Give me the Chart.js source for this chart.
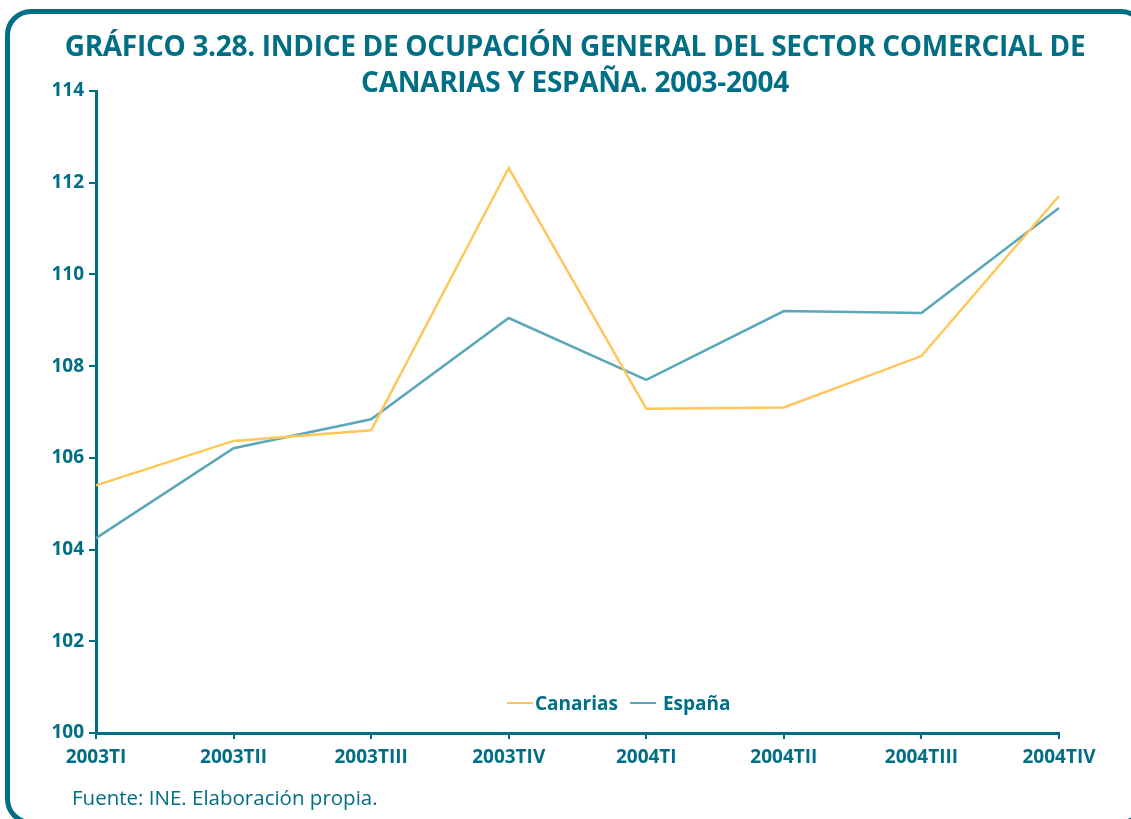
<!DOCTYPE html>
<html lang="es">
<head>
    <meta charset="UTF-8">
    <title>Gráfico 3.28</title>
    <script src="https://cdn.jsdelivr.net/npm/chart.js@4.4.0/dist/chart.umd.min.js"></script>
    <style>
        body {
            margin: 0;
            width: 1131px;
            height: 819px;
            overflow: hidden;
            background: #fff;
            font-family: "Open Sans", Arial, sans-serif;
            position: relative;
        }
        .frame {
            position: absolute;
            left: 5px;
            top: 9px;
            width: 1142px;
            height: 816px;
            box-sizing: border-box;
            border: 5px solid #006f86;
            border-radius: 26px;
        }
        .title {
            position: absolute;
            left: 0;
            top: 27px;
            width: 1150px;
            text-align: center;
            color: #006f86;
            font-weight: bold;
            font-size: 28px;
            line-height: 36px;
            letter-spacing: -0.3px;
        }
        #chart {
            position: absolute;
            left: 0;
            top: 0;
        }
        .legend {
            position: absolute;
            left: 507px;
            top: 690px;
            color: #006f86;
            font-weight: bold;
            font-size: 19px;
            display: flex;
            align-items: center;
        }
        .legend span.sw {
            display: inline-block;
            width: 26px;
            height: 2px;
            margin-right: 2px;
        }
        .footer {
            position: absolute;
            left: 72px;
            top: 783px;
            color: #006f86;
            font-size: 20.5px;
        }
    </style>
</head>
<body>
    <div class="frame"></div>
    <canvas id="chart" width="1131" height="819"></canvas>
    <div class="title">GRÁFICO 3.28. INDICE DE OCUPACIÓN GENERAL DEL SECTOR COMERCIAL DE<br>CANARIAS Y ESPAÑA. 2003-2004</div>
    <div class="legend">
        <span class="sw" style="background:#ffc658"></span>Canarias
        <span class="sw" style="background:#5ba7ba; margin-left:12px; margin-right:7px"></span>España
    </div>
    <div class="footer">Fuente: INE. Elaboración propia.</div>

    <script>
        const periods = ['2003TI', '2003TII', '2003TIII', '2003TIV', '2004TI', '2004TII', '2004TIII', '2004TIV'];
        const canarias = [105.4, 106.37, 106.6, 112.32, 107.07, 107.1, 108.22, 111.71];
        const espana = [104.25, 106.21, 106.84, 109.05, 107.7, 109.2, 109.16, 111.45];

        const teal = '#006f86';
        const tickFont = { family: '"Open Sans", Arial, sans-serif', size: 19, weight: 'bold' };

        new Chart(document.getElementById('chart'), {
            type: 'line',
            data: {
                labels: periods,
                datasets: [
                    {
                        label: 'Canarias',
                        data: canarias,
                        borderColor: '#ffc658',
                        borderWidth: 2.5,
                        pointRadius: 0,
                        tension: 0
                    },
                    {
                        label: 'España',
                        data: espana,
                        borderColor: '#5ba7ba',
                        borderWidth: 2.5,
                        pointRadius: 0,
                        tension: 0
                    }
                ]
            },
            options: {
                responsive: false,
                animation: false,
                layout: {
                    padding: { left: 20, right: 72, top: 91, bottom: 41 }
                },
                plugins: {
                    legend: { display: false },
                    tooltip: { enabled: false }
                },
                scales: {
                    x: {
                        afterFit: function(scale) { scale.height = 45; },
                        grid: {
                            drawOnChartArea: false,
                            drawTicks: true,
                            tickLength: 6,
                            color: teal,
                            lineWidth: 2
                        },
                        border: { display: true, color: teal, width: 3 },
                        ticks: {
                            color: teal,
                            padding: 7,
                            maxRotation: 0,
                            autoSkip: false,
                            font: tickFont
                        }
                    },
                    y: {
                        min: 100,
                        max: 114,
                        afterFit: function(scale) { scale.width = 76; },
                        grid: {
                            drawOnChartArea: false,
                            drawTicks: true,
                            tickLength: 7,
                            color: teal,
                            lineWidth: 2
                        },
                        border: { display: true, color: teal, width: 3 },
                        ticks: {
                            stepSize: 2,
                            color: teal,
                            padding: 5,
                            font: tickFont
                        }
                    }
                }
            }
        });
    </script>
</body>
</html>
